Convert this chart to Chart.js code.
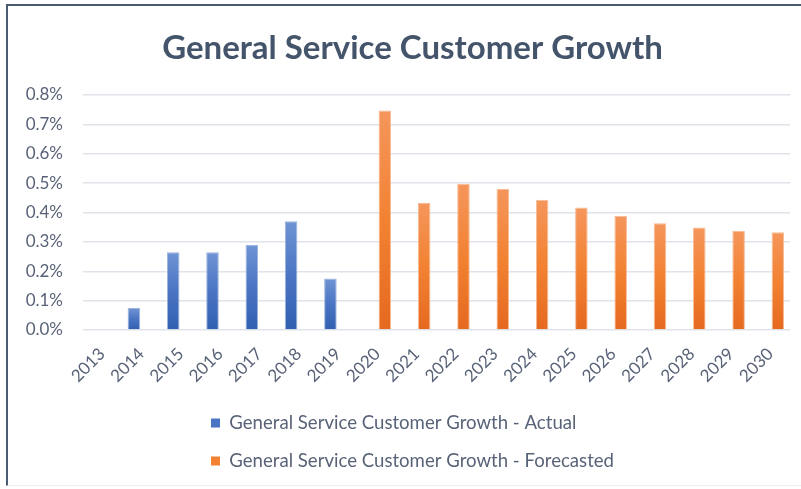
<!DOCTYPE html>
<html>
<head>
<meta charset="utf-8">
<script src="https://cdn.jsdelivr.net/npm/chart.js@4/dist/chart.umd.min.js"></script>
<style>
  html, body { margin: 0; padding: 0; background: #ffffff; }
  #frame {
    position: absolute; left: 6px; top: 4px; width: 795px; height: 482px;
    border-top: 2px solid #4a5a70; border-left: 2px solid #4a5a70;
    border-bottom: 1px solid #eceff3; box-sizing: border-box;
  }
  #chart { position: absolute; left: 0; top: 0; }
</style>
</head>
<body>
<div id="frame"></div>
<canvas id="chart" width="801" height="489"></canvas>
<script>
// Annual growth in general service customers, in percent
const years = ['2013','2014','2015','2016','2017','2018','2019','2020','2021','2022',
               '2023','2024','2025','2026','2027','2028','2029','2030'];
const actualGrowth = [null, 0.075, 0.265, 0.265, 0.29, 0.37, 0.175,
                      null, null, null, null, null, null, null, null, null, null, null];
const forecastGrowth = [null, null, null, null, null, null, null,
                        0.747, 0.432, 0.498, 0.48, 0.443, 0.417, 0.389, 0.363, 0.349, 0.337, 0.333];
const yTicks = [0, 0.1, 0.2, 0.3, 0.4, 0.5, 0.6, 0.7, 0.8];

const FONT = 'Lato, "Open Sans", sans-serif';
const TEXT = '#596378';

const BLUE = ['#7094d4', '#4a75c3', '#3160b0'];
const ORANGE = ['#f5965c', '#f28232', '#e5691f'];

// Each bar shades from a light top to a darker base
function barGradient(ctx, stops) {
  const chart = ctx.chart;
  const y = chart.scales && chart.scales.y;
  const v = ctx.parsed ? ctx.parsed.y : null;
  if (!y || v == null) return stops[1];
  const top = y.getPixelForValue(v);
  const base = y.getPixelForValue(0);
  if (!isFinite(top) || !isFinite(base) || top === base) return stops[1];
  const g = chart.ctx.createLinearGradient(0, top, 0, base);
  g.addColorStop(0, stops[0]);
  g.addColorStop(0.5, stops[1]);
  g.addColorStop(1, stops[2]);
  return g;
}

// Centre the title on the frame, and stack the legend rows
// left-aligned as a block centred under the title
const TITLE_LEFT = 35;
const legendColumn = {
  id: 'legendColumn',
  afterLayout(chart) {
    const t = chart.titleBlock;
    if (t) t.left = TITLE_LEFT;
    const centre = t ? (t.left + t.right) / 2 : chart.width / 2;
    const lg = chart.legend;
    if (!lg || !lg.lineWidths) return;
    const pad = lg.options.labels.padding;
    const block = Math.max(...lg.lineWidths) - pad;
    lg.left = centre - block / 2 - pad;
  }
};

new Chart(document.getElementById('chart'), {
  type: 'bar',
  data: {
    labels: years,
    datasets: [
      {
        label: 'General Service Customer Growth - Actual',
        data: actualGrowth,
        backgroundColor: c => barGradient(c, BLUE),
        borderColor: '#9db3df',
        borderWidth: 1,
        categoryPercentage: 0.77,
        barPercentage: 0.83
      },
      {
        label: 'General Service Customer Growth - Forecasted',
        data: forecastGrowth,
        backgroundColor: c => barGradient(c, ORANGE),
        borderColor: '#f8bb94',
        borderWidth: 1,
        categoryPercentage: 0.77,
        barPercentage: 0.83
      }
    ]
  },
  options: {
    responsive: false,
    animation: false,
    devicePixelRatio: 1,
    layout: { padding: { left: 0, right: 11, top: 0, bottom: 8.7 } },
    plugins: {
      title: {
        display: true,
        text: 'General Service Customer Growth',
        color: '#44546a',
        font: { family: FONT, size: 33, weight: 'bold' },
        padding: { top: 28.7, bottom: 26.7 }
      },
      legend: {
        position: 'bottom',
        align: 'start',
        labels: {
          boxWidth: 9,
          boxHeight: 9,
          padding: 19.4,
          color: TEXT,
          font: { family: FONT, size: 18.6 },
          generateLabels(chart) {
            const items = Chart.defaults.plugins.legend.labels.generateLabels(chart);
            const fills = [BLUE[1], ORANGE[1]];
            items.forEach((it, i) => { it.fillStyle = fills[i]; it.strokeStyle = fills[i]; it.lineWidth = 0; });
            return items;
          }
        }
      },
      tooltip: { enabled: false }
    },
    scales: {
      x: {
        grid: { display: false, drawTicks: false },
        border: { display: false },
        ticks: {
          autoSkip: false,
          minRotation: 45,
          maxRotation: 45,
          padding: 14,
          color: TEXT,
          font: { family: FONT, size: 17 }
        },
        afterFit(s) { s.height = 64.3; }
      },
      y: {
        min: 0,
        max: 0.8,
        afterBuildTicks(s) { s.ticks = yTicks.map(v => ({ value: v })); },
        grid: { color: '#dfe4eb', lineWidth: 1.5, drawTicks: false },
        border: { display: false },
        ticks: {
          padding: 19.5,
          color: TEXT,
          font: { family: FONT, size: 17 },
          callback: v => v.toFixed(1) + '%'
        },
        afterFit(s) { s.width = 82.5; }
      }
    }
  },
  plugins: [legendColumn]
});
</script>
</body>
</html>
